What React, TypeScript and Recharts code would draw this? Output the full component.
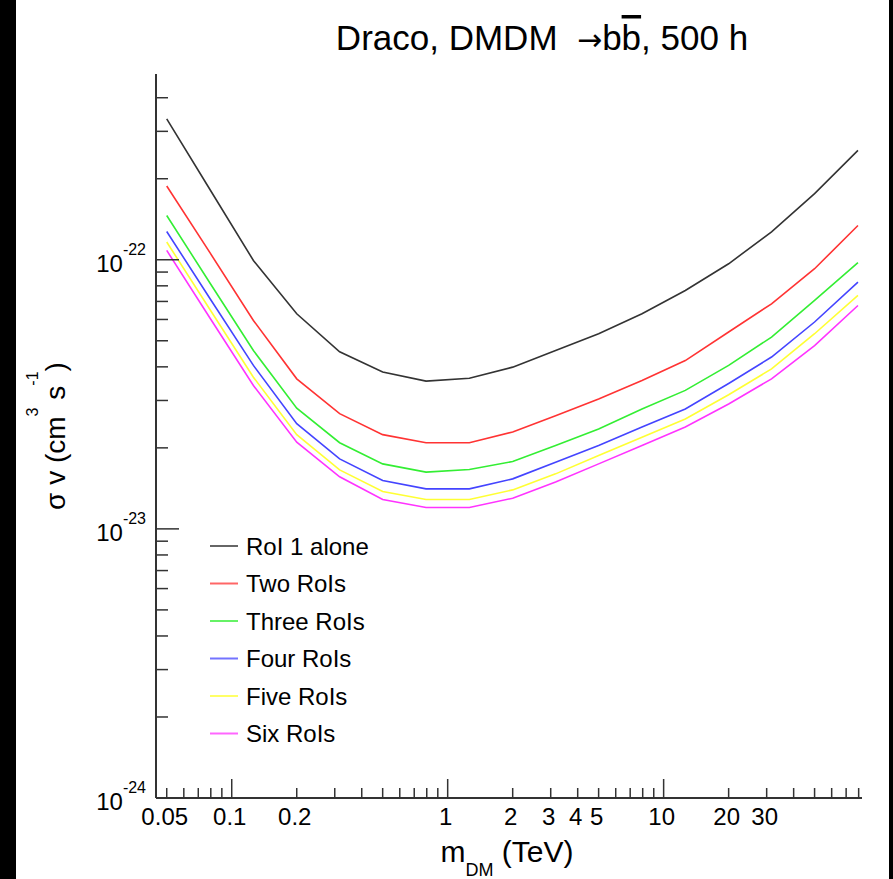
import React from 'react';
import { LineChart, Line, XAxis, YAxis, Legend } from 'recharts';

const FONT = '"Liberation Sans", Arial, Helvetica, sans-serif';

// DM mass (TeV)
const masses = [0.05, 0.0794, 0.126, 0.2, 0.316, 0.5, 0.794, 1.26, 2, 3.16, 5, 7.94, 12.6, 20, 31.6, 50, 79.4];

// <sigma v> upper limits (cm^3 s^-1)
const roi1Alone = [3.34e-22, 1.82e-22, 9.94e-23, 6.3e-23, 4.55e-23, 3.83e-23, 3.54e-23, 3.63e-23, 3.99e-23, 4.6e-23, 5.31e-23, 6.3e-23, 7.69e-23, 9.66e-23, 1.27e-22, 1.76e-22, 2.55e-22];
const twoRois = [1.88e-22, 1.06e-22, 5.95e-23, 3.61e-23, 2.68e-23, 2.24e-23, 2.09e-23, 2.09e-23, 2.29e-23, 2.63e-23, 3.04e-23, 3.56e-23, 4.22e-23, 5.39e-23, 6.86e-23, 9.26e-23, 1.34e-22];
const threeRois = [1.46e-22, 8.18e-23, 4.6e-23, 2.81e-23, 2.09e-23, 1.744e-23, 1.625e-23, 1.661e-23, 1.779e-23, 2.04e-23, 2.35e-23, 2.79e-23, 3.27e-23, 4.05e-23, 5.16e-23, 7.06e-23, 9.75e-23];
const fourRois = [1.274e-22, 7.16e-23, 4.05e-23, 2.46e-23, 1.82e-23, 1.512e-23, 1.408e-23, 1.408e-23, 1.534e-23, 1.77e-23, 2.04e-23, 2.39e-23, 2.79e-23, 3.47e-23, 4.35e-23, 5.87e-23, 8.26e-23];
const fiveRois = [1.164e-22, 6.52e-23, 3.66e-23, 2.24e-23, 1.657e-23, 1.376e-23, 1.285e-23, 1.285e-23, 1.396e-23, 1.601e-23, 1.873e-23, 2.19e-23, 2.56e-23, 3.15e-23, 3.93e-23, 5.31e-23, 7.37e-23];
const sixRois = [1.083e-22, 6.06e-23, 3.41e-23, 2.1e-23, 1.561e-23, 1.285e-23, 1.2e-23, 1.2e-23, 1.3e-23, 1.492e-23, 1.744e-23, 2.04e-23, 2.39e-23, 2.91e-23, 3.61e-23, 4.8e-23, 6.76e-23];

const seriesKeys = ['roi1', 'roi2', 'roi3', 'roi4', 'roi5', 'roi6'];
const seriesNames = ['RoI 1 alone', 'Two RoIs', 'Three RoIs', 'Four RoIs', 'Five RoIs', 'Six RoIs'];
const seriesColors = ['#333333', '#ff3333', '#33ee33', '#4444ff', '#ffff33', '#ff33ff'];
const seriesValues = [roi1Alone, twoRois, threeRois, fourRois, fiveRois, sixRois];

// axis ticks
const xTicks = [0.05, 0.06, 0.07, 0.08, 0.09, 0.1, 0.2, 0.3, 0.4, 0.5, 0.6, 0.7, 0.8, 0.9, 1, 2, 3, 4, 5, 6, 7, 8, 9, 10, 20, 30, 40, 50, 60, 70, 80];
const xMajorTicks = [0.1, 1, 10];
const xLabeledTicks = [0.05, 0.1, 0.2, 1, 2, 3, 4, 5, 10, 20, 30];
const xDomain = [0.0446, 82.9];

const yTicks = [
  1e-24, 2e-24, 3e-24, 4e-24, 5e-24, 6e-24, 7e-24, 8e-24, 9e-24,
  1e-23, 2e-23, 3e-23, 4e-23, 5e-23, 6e-23, 7e-23, 8e-23, 9e-23,
  1e-22, 2e-22, 3e-22, 4e-22,
];
const yMajorTicks = [1e-24, 1e-23, 1e-22];
const yMajorExponents = ['-24', '-23', '-22'];
const yDomain = [1e-24, 4.9e-22];

const data = masses.map((m, i) => {
  const row: Record<string, number> = { mass: m };
  seriesKeys.forEach((k, j) => {
    row[k] = seriesValues[j][i];
  });
  return row;
});

const XTick = (props: any) => {
  const { x, y, payload } = props;
  const v = payload.value;
  const major = xMajorTicks.includes(v);
  const labeled = xLabeledTicks.includes(v);
  return (
    <g>
      <line x1={x} x2={x} y1={y} y2={y - (major ? 19 : 10)} stroke="#333" strokeWidth={1.5} />
      {labeled && (
        <text x={x - 2} y={y + 27} textAnchor="middle" fontSize={24} fontFamily={FONT} fill="#000">
          {String(v)}
        </text>
      )}
    </g>
  );
};

const YTick = (props: any) => {
  const { x, y, payload } = props;
  const idx = yMajorTicks.indexOf(payload.value);
  const major = idx >= 0;
  return (
    <g>
      <line x1={x} x2={x + (major ? 23 : 12)} y1={y} y2={y} stroke="#333" strokeWidth={1.5} />
      {major && (
        <text x={x - 10} y={y + 12} textAnchor="end" fontSize={24} fontFamily={FONT} fill="#000">
          10
          <tspan fontSize={16} dy={-17}>{yMajorExponents[idx]}</tspan>
        </text>
      )}
    </g>
  );
};

const renderYLabel = () => (
  <text
    transform="translate(65,436) rotate(-90)"
    textAnchor="middle"
    fontSize={28}
    fontFamily={FONT}
    fill="#000"
  >
    σ v (cm
    <tspan fontSize={16} dy={-27}>3</tspan>
    <tspan dy={27}> s</tspan>
    <tspan fontSize={16} dy={-27}>-1</tspan>
    <tspan dy={27}>)</tspan>
  </text>
);

const renderXLabel = () => (
  <text x={507} y={862} textAnchor="middle" fontSize={30} fontFamily={FONT} fill="#000">
    m
    <tspan fontSize={18} dy={14}>DM</tspan>
    <tspan dy={-14}> (TeV)</tspan>
  </text>
);

const renderLegend = () => (
  <svg width={260} height={230} style={{ display: 'block' }}>
    {seriesNames.map((name, i) => {
      const cy = 21 + i * 37.5;
      return (
        <g key={name}>
          <line x1={10} x2={38} y1={cy} y2={cy} stroke={seriesColors[i]} strokeOpacity={0.75} strokeWidth={2} />
          <text x={46} y={cy + 8.5} fontSize={24} fontFamily={FONT} fill="#000">
            {name}
          </text>
        </g>
      );
    })}
  </svg>
);

export default function App() {
  return (
    <div style={{ position: 'absolute', left: 0, top: 0, width: 893, height: 879, background: '#000', overflow: 'hidden' }}>
      <div style={{ position: 'absolute', left: 16, top: 0, width: 873, height: 879, background: '#fff' }} />
      <div style={{ position: 'absolute', left: 0, top: 0 }}>
        <LineChart width={893} height={879} data={data} margin={{ top: 74, right: 31, bottom: 0, left: 0 }}>
          <XAxis
            dataKey="mass"
            type="number"
            scale="log"
            domain={xDomain}
            allowDataOverflow
            ticks={xTicks}
            interval={0}
            tick={<XTick />}
            tickLine={false}
            tickSize={0}
            tickMargin={0}
            height={81}
            axisLine={{ stroke: '#333', strokeWidth: 2 }}
            label={renderXLabel}
          />
          <XAxis
            xAxisId="top"
            orientation="top"
            dataKey="mass"
            type="number"
            scale="log"
            domain={xDomain}
            allowDataOverflow
            height={0}
            tick={false}
            tickLine={false}
            axisLine={{ stroke: '#333', strokeWidth: 2 }}
          />
          <YAxis
            type="number"
            scale="log"
            domain={yDomain}
            allowDataOverflow
            ticks={yTicks}
            interval={0}
            tick={<YTick />}
            tickLine={false}
            tickSize={0}
            tickMargin={0}
            width={156}
            axisLine={{ stroke: '#333', strokeWidth: 2 }}
            label={renderYLabel}
          />
          <YAxis
            yAxisId="right"
            orientation="right"
            type="number"
            scale="log"
            domain={yDomain}
            allowDataOverflow
            width={0}
            tick={false}
            tickLine={false}
            axisLine={{ stroke: '#333', strokeWidth: 2 }}
          />
          {seriesKeys.map((k, i) => (
            <Line
              key={k}
              type="linear"
              dataKey={k}
              name={seriesNames[i]}
              stroke={seriesColors[i]}
              strokeWidth={1.6}
              dot={false}
              isAnimationActive={false}
            />
          ))}
          <Legend
            layout="vertical"
            align="center"
            verticalAlign="middle"
            content={renderLegend}
            wrapperStyle={{ position: 'absolute', left: 200, top: 525, width: 260, height: 230 }}
          />
          <text x={542} y={50} textAnchor="middle" fontSize={35} fontFamily={FONT} fill="#000">
            Draco, DMDM{'\u00a0\u00a0'}<tspan fontFamily='"DejaVu Sans", sans-serif' fontSize={30}>{'\u2192'}</tspan>b<tspan style={{ textDecoration: 'overline' }}>b</tspan>, 500 h
          </text>
        </LineChart>
      </div>
    </div>
  );
}
